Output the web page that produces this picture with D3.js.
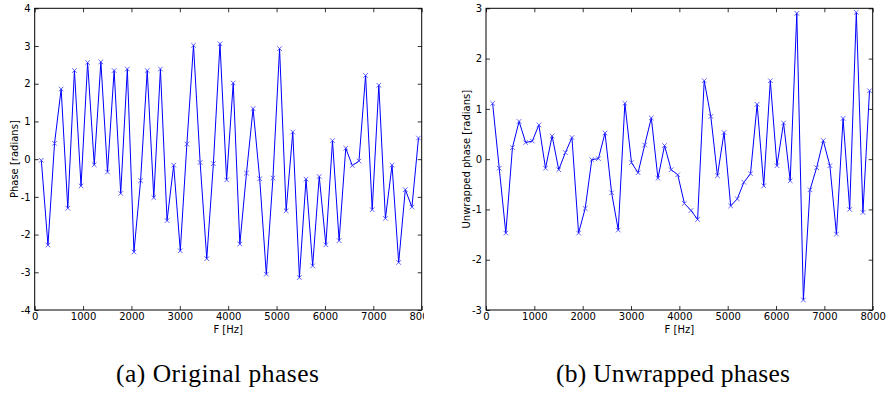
<!DOCTYPE html>
<html>
<head>
<meta charset="utf-8">
<script src="https://cdn.jsdelivr.net/npm/d3@7"></script>
<style>
    body { margin: 0; background: #fff; }
    svg { display: block; }
    .tick text { font-family: "DejaVu Sans", sans-serif; font-size: 10px; fill: #000; }
    .axisLabel { font-family: "DejaVu Sans", sans-serif; font-size: 10px; fill: #000; }
    .caption { font-family: "Liberation Serif", serif; font-size: 25.5px; fill: #000; }
</style>
</head>
<body>
<svg id="chart" width="886" height="394"></svg>
<script>
// frequency bins (Hz)
const freqs = [137, 274, 410, 547, 684, 821, 958, 1094, 1231, 1368,
    1505, 1642, 1778, 1915, 2052, 2189, 2326, 2462, 2599, 2736,
    2873, 3010, 3146, 3283, 3420, 3557, 3694, 3830, 3967, 4104,
    4241, 4378, 4514, 4651, 4788, 4925, 5062, 5198, 5335, 5472,
    5609, 5746, 5882, 6019, 6156, 6293, 6430, 6566, 6703, 6840,
    6977, 7114, 7250, 7387, 7524, 7661, 7798, 7934];

// (a) wrapped phase, radians
const originalPhase = [-0.03, -2.28, 0.42, 1.86, -1.30, 2.35, -0.71, 2.56, -0.15, 2.58,
    -0.34, 2.35, -0.91, 2.39, -2.46, -0.57, 2.35, -1.02, 2.39, -1.63,
    -0.16, -2.43, 0.40, 3.02, -0.09, -2.64, -0.12, 3.06, -0.55, 2.02,
    -2.25, -0.37, 1.34, -0.52, -3.05, -0.50, 2.93, -1.37, 0.72, -3.14,
    -0.53, -2.83, -0.46, -2.27, 0.49, -2.16, 0.29, -0.17, -0.05, 2.22,
    -1.34, 1.96, -1.57, -0.16, -2.74, -0.81, -1.27, 0.56];

// (b) unwrapped phase, radians
const unwrappedPhase = [1.11, -0.18, -1.47, 0.23, 0.75, 0.33, 0.36, 0.68, -0.18, 0.46,
    -0.21, 0.13, 0.43, -1.47, -0.98, -0.01, 0.01, 0.52, -0.67, -1.41,
    1.11, -0.07, -0.27, 0.28, 0.82, -0.38, 0.27, -0.21, -0.31, -0.88,
    -1.02, -1.20, 1.56, 0.85, -0.33, 0.53, -0.93, -0.79, -0.46, -0.29,
    1.09, -0.53, 1.56, -0.13, 0.72, -0.43, 2.90, -2.80, -0.61, -0.17,
    0.37, -0.13, -1.49, 0.81, -1.00, 2.92, -1.06, 1.36];

const xTicks = [0, 1000, 2000, 3000, 4000, 5000, 6000, 7000, 8000];
const yTicksA = [-4, -3, -2, -1, 0, 1, 2, 3, 4];
const yTicksB = [-3, -2, -1, 0, 1, 2, 3];

let PhasePlot = function ({
                              left,
                              right,
                              top = 8.3,
                              bottom = 310,
                              yDomain,
                              yTicks,
                              yLabel,
                              labelX,
                              values = []
                          }) {
    let master = {};
    master.el = null;

    master.init = (container) => {
        master.el = container.append('g').attr('class', 'phasePlot');
    };

    master.draw = () => {
        const x = d3.scaleLinear().domain([0, 8000]).range([left, right]);
        const y = d3.scaleLinear().domain(yDomain).range([bottom, top]);
        const data = freqs.map((f, i) => ({f, v: values[i]}));
        const tick = 4;

        // ticks, all pointing inwards
        master.el.append('g')
            .attr('transform', `translate(0,${bottom})`)
            .call(d3.axisBottom(x).tickValues(xTicks).tickSize(-tick).tickPadding(3).tickFormat(d3.format('d')));
        master.el.append('g')
            .attr('transform', `translate(0,${top})`)
            .call(d3.axisTop(x).tickValues(xTicks).tickSize(-tick).tickFormat(''));
        master.el.append('g')
            .attr('transform', `translate(${left},0)`)
            .call(d3.axisLeft(y).tickValues(yTicks).tickSize(-tick).tickPadding(4).tickFormat(d => String(d)));
        master.el.append('g')
            .attr('transform', `translate(${right},0)`)
            .call(d3.axisRight(y).tickValues(yTicks).tickSize(-tick).tickFormat(''));
        master.el.selectAll('.domain').remove();
        master.el.selectAll('.tick line').attr('stroke', '#000').attr('stroke-width', 0.8);

        master.el.append('rect')
            .attr('x', left).attr('y', top)
            .attr('width', right - left).attr('height', bottom - top)
            .attr('fill', 'none').attr('stroke', '#000').attr('stroke-width', 1);

        const line = d3.line().x(d => x(d.f)).y(d => y(d.v));
        master.el.append('path')
            .attr('d', line(data))
            .attr('fill', 'none')
            .attr('stroke', '#0000ff')
            .attr('stroke-width', 1);

        const m = 2.3;
        master.el.append('g').selectAll('path.marker')
            .data(data)
            .join('path')
            .attr('class', 'marker')
            .attr('d', d => {
                const cx = x(d.f), cy = y(d.v);
                return `M${cx - m},${cy - m}L${cx + m},${cy + m}M${cx - m},${cy + m}L${cx + m},${cy - m}`;
            })
            .attr('stroke', '#3b3bff')
            .attr('stroke-width', 0.8);

        master.el.append('text')
            .attr('class', 'axisLabel')
            .attr('text-anchor', 'middle')
            .attr('x', (left + right) / 2)
            .attr('y', 332.5)
            .text('F [Hz]');
        master.el.append('text')
            .attr('class', 'axisLabel')
            .attr('text-anchor', 'middle')
            .attr('transform', `translate(${labelX},${(top + bottom) / 2}) rotate(-90)`)
            .text(yLabel);
    };

    return master;
};

const svg = d3.select('#chart');
svg.append('rect').attr('width', 886).attr('height', 394).attr('fill', '#fff');

// left sub-figure is cropped just past its right spine
svg.append('clipPath').attr('id', 'cropA')
    .append('rect').attr('x', 0).attr('y', 0).attr('width', 424).attr('height', 394);
const holderA = svg.append('g').attr('clip-path', 'url(#cropA)');

const plotA = PhasePlot({
    left: 34.7, right: 421.7,
    yDomain: [-4, 4], yTicks: yTicksA,
    yLabel: 'Phase [radians]', labelX: 17.5,
    values: originalPhase
});
plotA.init(holderA);
plotA.draw();

const plotB = PhasePlot({
    left: 486, right: 872.7,
    yDomain: [-3, 3], yTicks: yTicksB,
    yLabel: 'Unwrapped phase [radians]', labelX: 469.5,
    values: unwrappedPhase
});
plotB.init(svg);
plotB.draw();

svg.append('text').attr('class', 'caption')
    .attr('x', 116).attr('y', 381.7)
    .attr('textLength', 203).attr('lengthAdjust', 'spacing')
    .text('(a) Original phases');
svg.append('text').attr('class', 'caption')
    .attr('x', 556).attr('y', 381.7)
    .attr('textLength', 234).attr('lengthAdjust', 'spacing')
    .text('(b) Unwrapped phases');
</script>
</body>
</html>
